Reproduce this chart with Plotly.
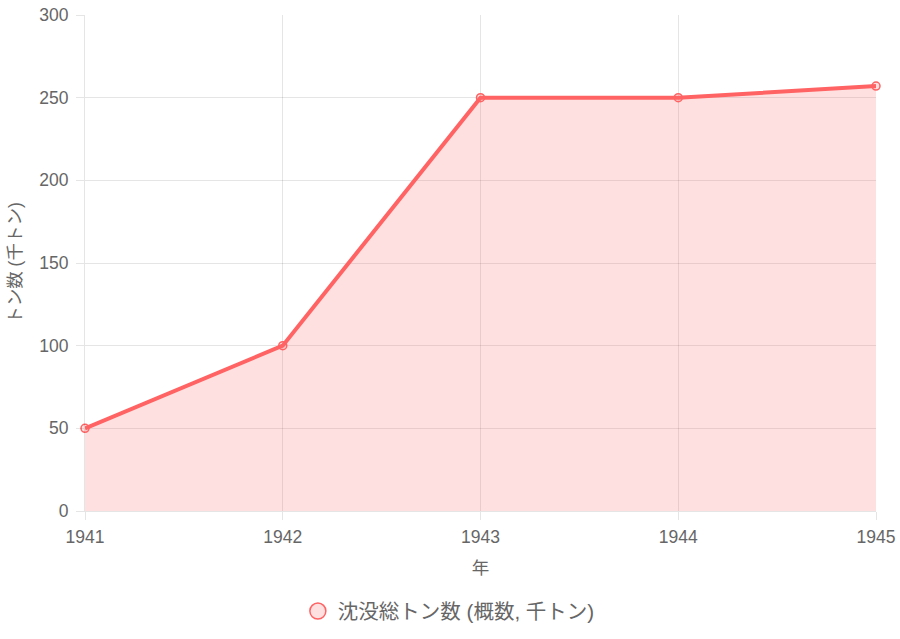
import plotly.graph_objects as go

years = [1941, 1942, 1943, 1944, 1945]
tonnage = [50, 100, 250, 250, 257]
series_name = "沈没総トン数 (概数, 千トン)"

line_color = "rgb(255, 99, 99)"
fill_color = "rgba(255, 99, 99, 0.2)"
grid = "rgba(0, 0, 0, 0.1)"

fig = go.Figure()

fig.add_trace(go.Scatter(
    x = years,
    y = tonnage,
    mode = 'lines+markers',
    fill = 'tozeroy',
    fillcolor = fill_color,
    line = dict(color = line_color, width = 4),
    marker = dict(size = 8, color = fill_color, line = dict(color = line_color, width = 1.5)),
    showlegend = False,
    cliponaxis = False
))

# legend-only marker
fig.add_trace(go.Scatter(
    x = [None],
    y = [None],
    mode = 'markers',
    name = series_name,
    marker = dict(size = 18, color = fill_color, line = dict(color = line_color, width = 1.5))
))

fig.update_layout(
    width = 900,
    height = 639,
    margin = dict(l = 85, r = 24, t = 15, b = 128, autoexpand = False),
    plot_bgcolor = 'white',
    paper_bgcolor = 'white',
    font = dict(family = "Liberation Sans, Noto Sans CJK JP, sans-serif", size = 17, color = "#666"),
    legend = dict(
        orientation = 'h',
        x = 0.46, xanchor = 'center',
        y = -0.202, yanchor = 'middle',
        font = dict(size = 20.5, color = "#666")
    ),
    xaxis = dict(
        range = [1941, 1945],
        tickvals = years,
        ticktext = [str(y) for y in years],
        showgrid = True,
        gridcolor = grid,
        zeroline = False,
        showline = True,
        linecolor = grid,
        ticks = 'outside',
        ticklen = 8,
        tickcolor = grid,
        tickfont = dict(size = 17.5),
        ticklabelstandoff = 2,
        automargin = False,
        title = dict(text = "年", font = dict(size = 17.5), standoff = 15)
    ),
    yaxis = dict(
        range = [0, 300],
        dtick = 50,
        showgrid = True,
        gridcolor = grid,
        zeroline = False,
        showline = True,
        linecolor = grid,
        ticks = 'outside',
        ticklen = 8,
        tickcolor = grid,
        tickfont = dict(size = 17.5),
        ticklabelstandoff = 4,
        automargin = False,
        title = dict(text = "トン数 (千トン)", font = dict(size = 17.5), standoff = 13)
    )
)

fig.write_html(
    "out.html",
    config = dict(displayModeBar = False),
    post_script = "document.body.style.margin='0';document.body.style.overflow='hidden';"
)
